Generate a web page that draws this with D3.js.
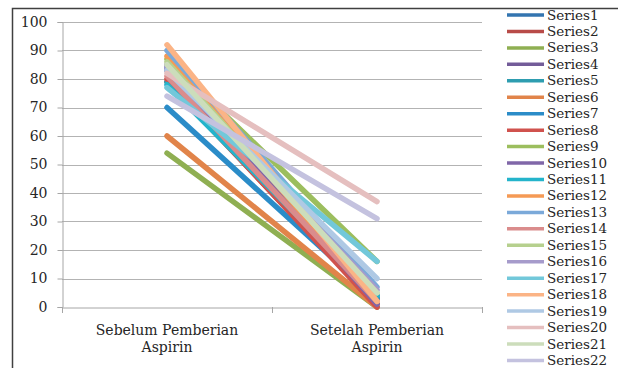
<!DOCTYPE html>
<html>
<head>
<meta charset="utf-8">
<script src="https://cdn.jsdelivr.net/npm/d3@7"></script>
<style>
  html, body { margin: 0; padding: 0; background: #fff; }
  svg { display: block; }
  text { font-family: "DejaVu Serif", "Liberation Serif", serif; fill: #262626; }
</style>
</head>
<body>
<svg id="chart" width="618" height="368"></svg>
<script>
// Measurement moments
const categories = ["Sebelum Pemberian\nAspirin", "Setelah Pemberian\nAspirin"];

const seriesNames = d3.range(1, 23).map(i => "Series" + i);

// Value before aspirin, per series
const before = [84, 79, 54, 83, 79, 60, 70, 80, 87, 85, 78, 88, 90, 81, 86, 84, 77, 92, 83, 82, 85, 74];
// Value after aspirin, per series
const after  = [4, 1, 0, 3, 3, 0, 3, 0, 16, 1, 4, 2, 7, 2, 5, 6, 16, 2, 10, 37, 5, 31];

const seriesColors = [
  "#3375b0", "#b84b48", "#8faf52", "#735c99", "#2e9db0", "#e1844a",
  "#2b8cc8", "#d0524e", "#9cbe5e", "#8067a8", "#24b4cb", "#f59a55",
  "#7ba9d9", "#da8c8c", "#b6d08e", "#a69bcb", "#72c8da", "#fbb486",
  "#afc9e4", "#e5bfbf", "#ccddbb", "#c4c2df"
];

const yTicks = [0, 10, 20, 30, 40, 50, 60, 70, 80, 90, 100];

const svg = d3.select("#chart");

// outer chart frame (only top and left edges fall inside the view)
svg.append("path")
  .attr("d", "M12.5,380 V8.5 H630")
  .attr("fill", "none")
  .attr("stroke", "#404040")
  .attr("stroke-width", 1.5);

const plot = { left: 62, right: 482, top: 22, bottom: 307 };

const x = d3.scaleBand().domain(categories).range([plot.left, plot.right]);
const y = d3.scaleLinear().domain([0, 100]).range([plot.bottom, plot.top]);

// horizontal gridlines
svg.append("g")
  .selectAll("line")
  .data(yTicks.filter(d => d > 0))
  .join("line")
  .attr("x1", plot.left).attr("x2", plot.right)
  .attr("y1", d => Math.round(y(d)) + 0.5).attr("y2", d => Math.round(y(d)) + 0.5)
  .attr("stroke", "#b3b3b3").attr("stroke-width", 1);

// value axis
const yAxis = svg.append("g")
  .attr("transform", `translate(${plot.left + 0.5},0)`)
  .call(d3.axisLeft(y).tickValues(yTicks).tickSize(5).tickPadding(10));
yAxis.select(".domain").attr("stroke", "#a6a6a6");
yAxis.selectAll(".tick line").attr("stroke", "#a6a6a6");
yAxis.selectAll(".tick text")
  .attr("font-size", 14)
  .attr("font-family", "DejaVu Serif")
  .attr("fill", "#262626");

// category axis
const xAxis = svg.append("g")
  .attr("transform", `translate(0,${plot.bottom + 0.5})`)
  .call(d3.axisBottom(x).tickSize(0).tickFormat(""));
xAxis.select(".domain").attr("stroke", "#a6a6a6");

// boundary ticks between categories
const bounds = [plot.left, ...categories.map(c => x(c) + x.bandwidth())];
svg.append("g")
  .selectAll("line")
  .data(bounds)
  .join("line")
  .attr("x1", d => Math.round(d) + 0.5).attr("x2", d => Math.round(d) + 0.5)
  .attr("y1", plot.bottom).attr("y2", plot.bottom + 6)
  .attr("stroke", "#a6a6a6");

// category labels (two lines each)
const catLabels = svg.append("g")
  .selectAll("text")
  .data(categories)
  .join("text")
  .attr("text-anchor", "middle")
  .attr("font-size", 14);
catLabels.each(function (c) {
  const lines = c.split("\n");
  d3.select(this).selectAll("tspan")
    .data(lines)
    .join("tspan")
    .attr("x", x(c) + x.bandwidth() / 2)
    .attr("y", (d, i) => 335 + i * 17)
    .text(d => d);
});

// series lines
const line = d3.line()
  .x((d, i) => x(categories[i]) + x.bandwidth() / 2)
  .y(d => y(d));

svg.append("g")
  .selectAll("path")
  .data(seriesNames)
  .join("path")
  .attr("d", (s, i) => line([before[i], after[i]]))
  .attr("fill", "none")
  .attr("stroke", (s, i) => seriesColors[i])
  .attr("stroke-width", 5.5)
  .attr("stroke-linecap", "round");

// legend
const legend = svg.append("g")
  .selectAll("g")
  .data(seriesNames)
  .join("g")
  .attr("transform", (s, i) => `translate(507,${15 + i * 16.45})`);
legend.append("line")
  .attr("x1", 0).attr("x2", 37)
  .attr("stroke", (s, i) => seriesColors[i])
  .attr("stroke-width", 3.5);
legend.append("text")
  .attr("x", 40)
  .attr("y", 4.5)
  .attr("font-size", 13.5)
  .text(s => s);
</script>
</body>
</html>
